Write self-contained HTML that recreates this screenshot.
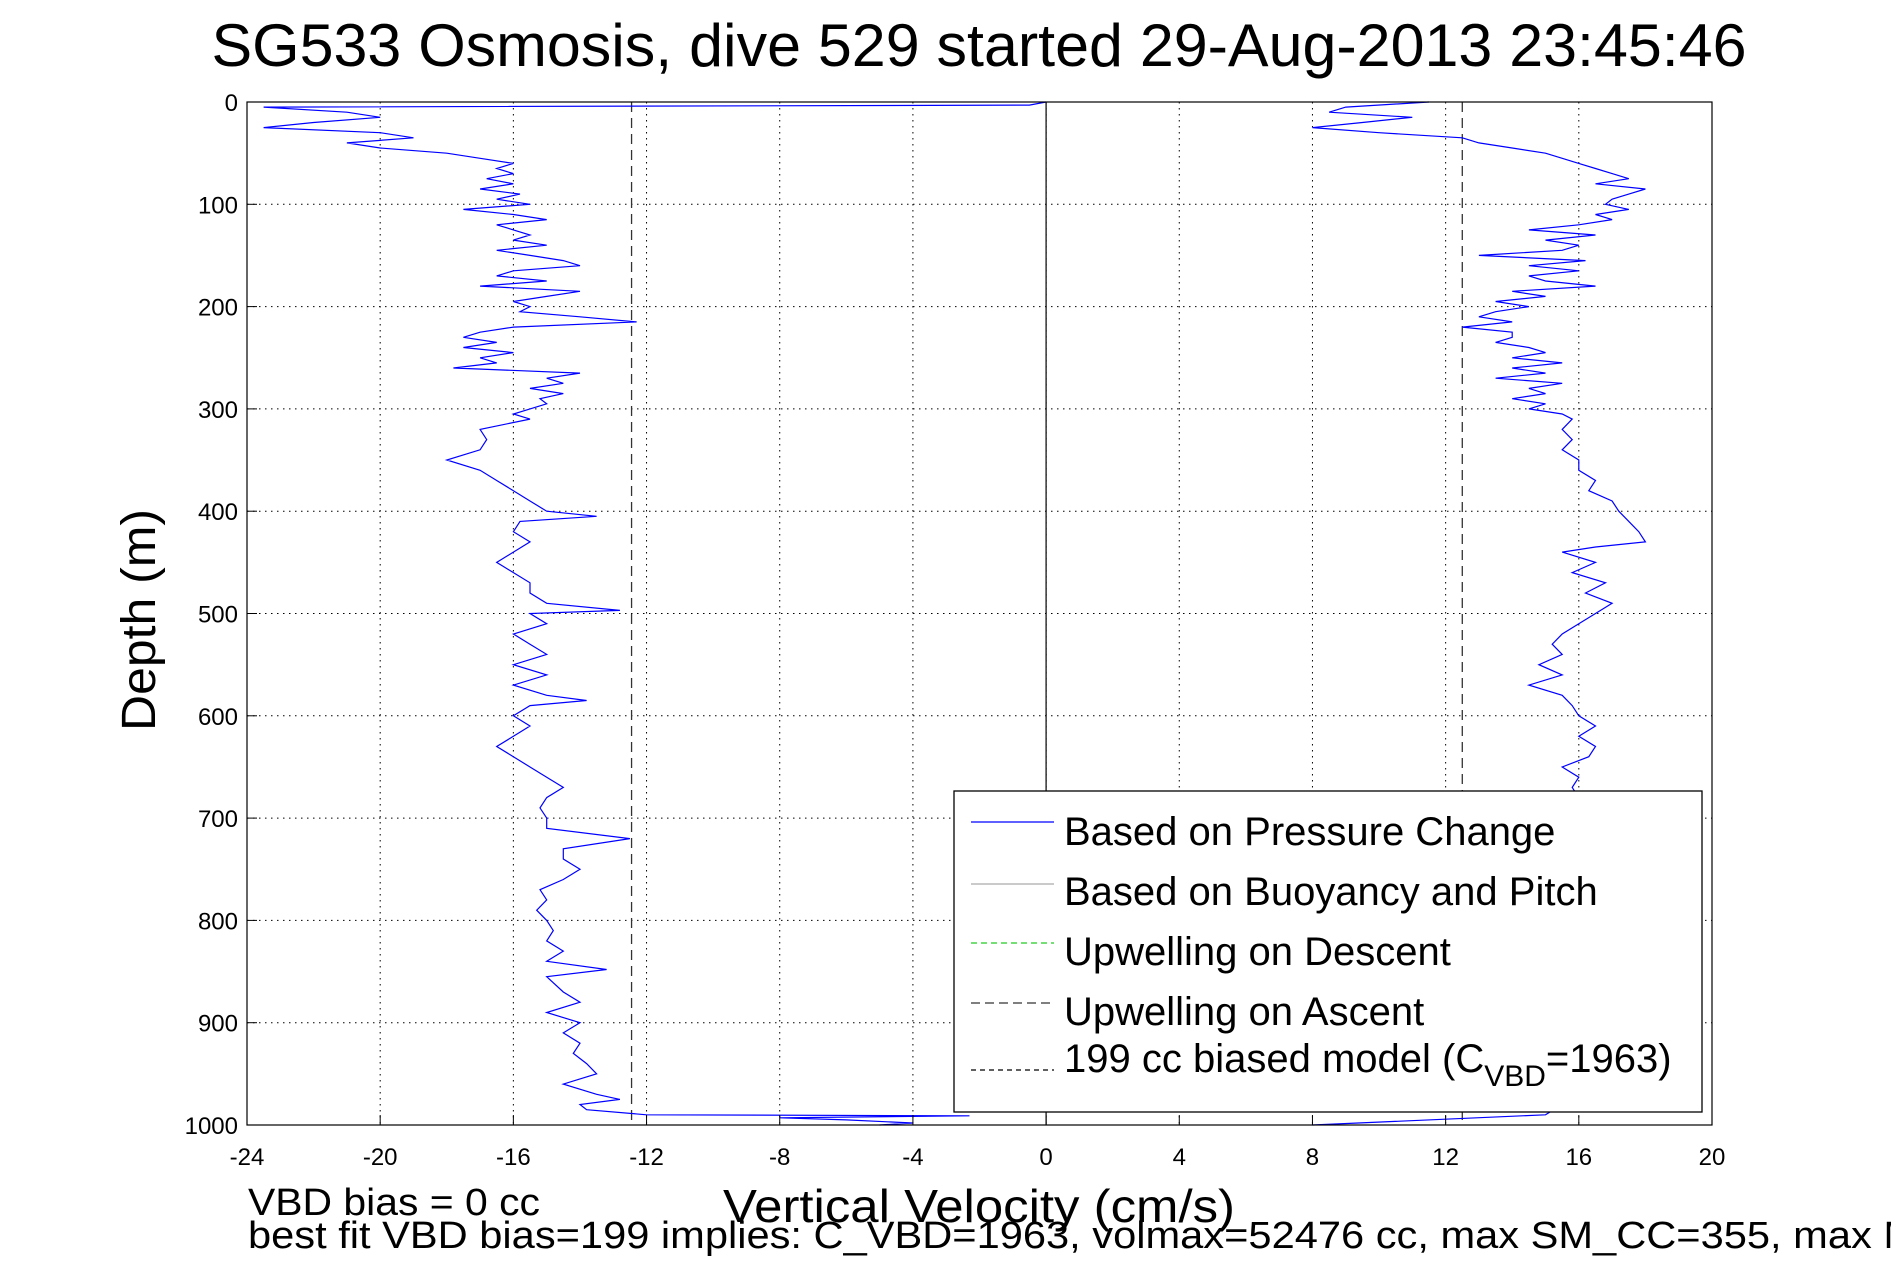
<!DOCTYPE html>
<html><head><meta charset="utf-8"><style>
html,body{margin:0;padding:0;background:#fff;}
svg{display:block;font-family:"Liberation Sans",sans-serif;}
</style></head><body>
<svg id="chart" width="1891" height="1262" viewBox="0 0 1891 1262" xmlns="http://www.w3.org/2000/svg">
<rect x="0" y="0" width="1891" height="1262" fill="#fff"/>
<text x="979" y="66" font-size="60" text-anchor="middle" textLength="1535" lengthAdjust="spacingAndGlyphs">SG533 Osmosis, dive 529 started 29-Aug-2013 23:45:46</text>
<g id="grid"></g>
<g id="series"></g>
<g id="axes"></g>
<text transform="translate(155,620) rotate(-90)" font-size="48" text-anchor="middle" textLength="222" lengthAdjust="spacingAndGlyphs">Depth (m)</text>
<text x="979" y="1222" font-size="46" text-anchor="middle" textLength="512" lengthAdjust="spacingAndGlyphs">Vertical Velocity (cm/s)</text>
<text x="248" y="1215" font-size="38" textLength="292" lengthAdjust="spacingAndGlyphs">VBD bias = 0 cc</text>
<text x="248" y="1248" font-size="38" textLength="1670" lengthAdjust="spacingAndGlyphs">best fit VBD bias=199 implies: C_VBD=1963, volmax=52476 cc, max SM_CC=355, max M</text>
<g>
<rect x="954" y="791" width="748" height="321" fill="#fff" stroke="#000" stroke-width="1.3"/>
<line x1="971" y1="822" x2="1054" y2="822" stroke="#0000ff" stroke-width="1.2"/>
<text x="1064" y="845" font-size="40">Based on Pressure Change</text>
<line x1="971" y1="884" x2="1054" y2="884" stroke="#aaa" stroke-width="1.2"/>
<text x="1064" y="905" font-size="40">Based on Buoyancy and Pitch</text>
<line x1="971" y1="943" x2="1054" y2="943" stroke="#2c2" stroke-width="1.2" stroke-dasharray="6,4"/>
<text x="1064" y="965" font-size="40">Upwelling on Descent</text>
<line x1="971" y1="1003" x2="1054" y2="1003" stroke="#333" stroke-width="1.2" stroke-dasharray="9,5"/>
<text x="1064" y="1025" font-size="40">Upwelling on Ascent</text>
<line x1="971" y1="1070" x2="1054" y2="1070" stroke="#000" stroke-width="1.2" stroke-dasharray="5,4"/>
<text x="1064" y="1072" font-size="40">199 cc biased model (C<tspan font-size="30" dy="14">VBD</tspan><tspan dy="-14">=1963)</tspan></text>
</g>
</svg>
<script>
const xTicks=[-24,-20,-16,-12,-8,-4,0,4,8,12,16,20];
const yTicks=[0,100,200,300,400,500,600,700,800,900,1000];
const descDepth=[0,3,5,10,15,20,25,30,35,40,45,50,55,60,65,70,75,80,85,90,95,100,105,110,115,120,125,130,135,140,145,150,155,160,165,170,175,180,185,190,195,200,205,210,215,220,225,230,235,240,245,250,255,260,265,270,275,280,285,290,295,300,305,310,320,330,340,350,360,370,380,390,400,405,410,420,430,440,450,460,470,480,490,497,500,510,520,530,540,550,560,570,580,585,590,600,610,620,630,640,650,660,670,680,690,700,710,720,730,740,750,760,770,780,790,800,810,820,830,840,848,855,870,880,890,900,910,920,930,940,950,960,970,975,980,985,990,991,993,995,998,1000];
const descVel=[0,-0.5,-23.5,-21,-20,-22,-23.5,-20,-19,-21,-20,-18,-17,-16,-16.5,-16,-16.8,-16,-17,-15.8,-16.5,-15.5,-17.5,-16,-15,-16.5,-16,-15.5,-16,-15,-16.5,-15.5,-14.5,-14,-16,-16.5,-15,-17,-14,-15,-16,-15.5,-15.8,-14,-12.3,-16,-17,-17.5,-16.5,-17.5,-16,-17,-16.5,-17.8,-14,-15,-14.5,-15.5,-14.5,-15.2,-15,-15.5,-16,-15.5,-17,-16.8,-17,-18,-17,-16.5,-16,-15.5,-15,-13.5,-15.8,-16,-15.5,-16,-16.5,-16,-15.5,-15.5,-15,-12.8,-15.5,-15,-16,-15.5,-15,-16,-15,-16,-15,-13.8,-15.5,-16,-15.5,-16,-16.5,-16,-15.5,-15,-14.5,-15,-15.2,-15,-15,-12.5,-14.5,-14.5,-14,-14.5,-15.2,-15,-15.3,-15,-14.8,-15,-14.5,-15,-13.2,-15,-14.5,-14,-15,-14,-14.5,-14,-14.2,-13.8,-13.5,-14.5,-13.5,-12.8,-14,-13.8,-12,-2.3,-8,-6,-4,-5];
const ascDepth=[0,5,10,15,20,25,30,35,40,45,50,55,60,65,70,75,80,85,90,95,100,105,110,115,120,125,130,135,140,145,150,155,160,165,170,175,180,185,190,195,200,205,210,215,220,225,230,235,240,245,250,255,260,265,270,275,280,285,290,295,300,305,310,320,330,340,350,360,370,380,390,400,410,420,430,435,440,450,460,470,480,490,500,510,520,530,540,550,560,570,580,590,600,610,620,630,640,650,660,670,680,700,750,800,850,900,950,980,990,1000];
const ascVel=[11.5,9,8.5,11,9.5,8,10,12.5,13,14,15,15.5,16,16.5,17,17.5,16.5,18,17.5,17,16.8,17.5,16.5,17,16,14.5,16.5,15,16,15.5,13,16.2,14.5,16,14.5,15,16.5,14,15,13.5,14.5,13.5,13,14,12.5,14,14,13.5,14.5,15,14,15.5,14,15,13.5,15.5,14.5,15,14,15,14.5,15.5,15.8,15.5,15.8,15.5,16,16,16.5,16.3,17,17.2,17.5,17.8,18,16.5,15.5,16.5,15.8,16.8,16.2,17,16.5,16,15.5,15.2,15.5,14.8,15.5,14.5,15.5,15.8,16,16.5,16,16.5,16.3,15.5,16,15.8,16,15.5,15.8,15.5,16,15.5,15.8,15.5,15,8];
const modelVel=[-12.45,12.5];
const L=247,R=1712,T=102,B=1125;
const xs=v=>L+(v-(-24))/44*(R-L);
const ys=d=>T+d/1000*(B-T);
const NS='http://www.w3.org/2000/svg';
function mk(tag,attrs,parent){const e=document.createElementNS(NS,tag);for(const k in attrs)e.setAttribute(k,attrs[k]);parent.appendChild(e);return e;}
const grid=document.getElementById('grid'),axes=document.getElementById('axes'),series=document.getElementById('series');
xTicks.forEach(t=>{
  const x=xs(t);
  const g=mk('line',{x1:x,y1:T,x2:x,y2:B,stroke:'#000','stroke-width':1,'stroke-dasharray':'1.5,4.5'},grid);
  
  
  const tk=mk('line',{x1:x,y1:B,x2:x,y2:B-10,stroke:'#000','stroke-width':1},axes);
  
  
  const lb=mk('text',{x:x,y:B+40,'font-size':24,'text-anchor':'middle'},axes);
  lb.textContent=t;
  
  
});
yTicks.forEach(t=>{
  const y=ys(t);
  const g=mk('line',{x1:L,y1:y,x2:R,y2:y,stroke:'#000','stroke-width':1,'stroke-dasharray':'1.5,4.5'},grid);
  
  
  const tk=mk('line',{x1:L,y1:y,x2:L+10,y2:y,stroke:'#000','stroke-width':1},axes);
  
  
  const lb=mk('text',{x:L-9,y:y+9,'font-size':24,'text-anchor':'end'},axes);
  lb.textContent=t;
  
  
});
const frame=mk('rect',{x:L,y:T,width:R-L,height:B-T,fill:'none',stroke:'#000','stroke-width':1.2},axes);


const zl=mk('line',{x1:xs(0),y1:T,x2:xs(0),y2:B,stroke:'#000','stroke-width':1.2},series);


modelVel.forEach(v=>{
  const l=mk('line',{x1:xs(v),y1:T,x2:xs(v),y2:B,stroke:'#333','stroke-width':1.3,'stroke-dasharray':'10,6'},series);
  
  
});
function path(dep,vel){return dep.map((d,i)=>(i?'L':'M')+xs(vel[i]).toFixed(1)+','+ys(d).toFixed(1)).join('');}
const pd=mk('path',{d:path(descDepth,descVel),fill:'none',stroke:'#0000ff','stroke-width':1.2},series);


const pa=mk('path',{d:path(ascDepth,ascVel),fill:'none',stroke:'#0000ff','stroke-width':1.2},series);


</script>
</body></html>
